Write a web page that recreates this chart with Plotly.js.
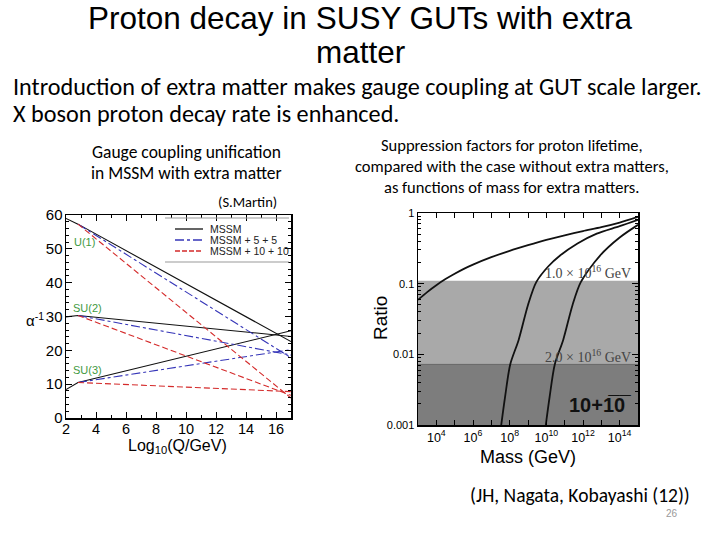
<!DOCTYPE html>
<html><head><meta charset="utf-8">
<script src="https://cdn.plot.ly/plotly-3.0.1.min.js"></script>
<style>html,body{margin:0;padding:0;background:#fff;} #chart{width:720px;height:540px;}</style>
</head><body><div id="chart"></div>
<script>
// ---------- Left chart: inverse gauge couplings vs log10(Q/GeV) ----------
const xMSSM = [2, 2.8, 17];
const mssmU1 = [59, 57.3, 22.6];
const mssmSU2 = [29.9, 30.3, 24.1];
const mssmSU3 = [8.4, 10.5, 25.8];
const xExtra = [2.8, 17];
const five5U1 = [57.3, 17.8];
const five5SU2 = [30.3, 18.6];
const five5SU3 = [10.5, 20.2];
const ten10U1 = [57.3, 5.9];
const ten10SU2 = [30.3, 6.7];
const ten10SU3 = [10.5, 7.8];
const leftXTicks = [2, 4, 6, 8, 10, 12, 14, 16];
const leftYTicks = [0, 10, 20, 30, 40, 50, 60];
const legendNames = ['MSSM', 'MSSM + 5 + 5', 'MSSM + 10 + 10'];
const groupLabels = ['U(1)', 'SU(2)', 'SU(3)'];

// ---------- Right chart: suppression ratio vs mass ----------
const curve1Exp = [3, 3.5, 4, 4.5, 5, 5.5, 6, 7, 8, 9, 10, 11, 12, 13, 14, 15];
const curve1Ratio = [0.059, 0.076, 0.095, 0.116, 0.138, 0.162, 0.186, 0.237, 0.292, 0.351, 0.417, 0.484, 0.556, 0.631, 0.733, 0.881];
const curve2Exp = [7.54, 7.75, 8.03, 8.49, 9.0, 9.45, 10.1, 10.75, 11.7, 12.75, 14, 15];
const curve2Ratio = [0.001, 0.0025, 0.0072, 0.016, 0.05, 0.105, 0.175, 0.25, 0.37, 0.51, 0.65, 0.8];
const curve3Exp = [9.97, 10.18, 10.46, 10.92, 11.43, 11.88, 12.93, 14, 15];
const curve3Ratio = [0.001, 0.0025, 0.0072, 0.016, 0.05, 0.105, 0.25, 0.45, 0.68];
const bandUpper = [0.11, 0.0072];
const bandLower = [0.0072, 0.001];
const massRangeExp = [3, 15];
const rightYTicks = [0.001, 0.01, 0.1, 1];
const rightYTickText = ['0.001', '0.01', '0.1', '1'];
const rightXTickExp = [3, 4, 5, 6, 7, 8, 9, 10, 11, 12, 13, 14, 15];
const rightXLabelled = [4, 6, 8, 10, 12, 14];

const pw = 720, ph = 540;
const px = v => v / pw;
const py = v => 1 - v / ph;
const ARIAL = 'Liberation Sans, Arial, sans-serif';
const CAL = 'Carlito, Lato, sans-serif';
const SERIF = 'Liberation Serif, Times New Roman, serif';

const blk = '#111111', blu = '#3535b8', red = '#d42a2a';
const lineStyles = [
  {color: blk, width: 1.1, dash: 'solid'},
  {color: blu, width: 1.1, dash: 'dashdot'},
  {color: red, width: 1.1, dash: '6px,3px'}
];

const traces = [];
function addLeft(x, y, st) {
  traces.push({x: x, y: y, xaxis: 'x', yaxis: 'y', mode: 'lines', line: st, showlegend: false, hoverinfo: 'skip'});
}
[mssmU1, mssmSU2, mssmSU3].forEach(y => addLeft(xMSSM, y, lineStyles[0]));
[five5U1, five5SU2, five5SU3].forEach(y => addLeft(xExtra, y, lineStyles[1]));
[ten10U1, ten10SU2, ten10SU3].forEach(y => addLeft(xExtra, y, lineStyles[2]));

// bands
const massLo = Math.pow(10, massRangeExp[0]), massHi = Math.pow(10, massRangeExp[1]);
const bandColors = ['#a9a9a9', '#7d7d7d'];
bandUpper.forEach((u, i) => {
  traces.push({x: [massLo, massHi, massHi, massLo, massLo], y: [u, u, bandLower[i], bandLower[i], u],
    xaxis: 'x2', yaxis: 'y2', mode: 'lines', fill: 'toself', fillcolor: bandColors[i],
    line: {width: 0}, showlegend: false, hoverinfo: 'skip'});
});
traces.push({x: [massLo, massHi], y: [bandLower[0], bandLower[0]], xaxis: 'x2', yaxis: 'y2', mode: 'lines',
  line: {color: '#666', width: 1}, showlegend: false, hoverinfo: 'skip'});
[[curve1Exp, curve1Ratio], [curve2Exp, curve2Ratio], [curve3Exp, curve3Ratio]].forEach(c => {
  traces.push({x: c[0].map(e => Math.pow(10, e)), y: c[1], xaxis: 'x2', yaxis: 'y2', mode: 'lines',
    line: {color: '#111', width: 1.8, shape: 'spline', smoothing: 0.8}, showlegend: false, hoverinfo: 'skip'});
});

const ann = [];
function txt(t, x, y, o) {
  ann.push(Object.assign({text: t, x: px(x), y: py(y), xref: 'paper', yref: 'paper', showarrow: false,
    xanchor: 'center', yanchor: 'middle', font: {family: CAL, size: 15, color: '#000'}}, o || {}));
}
txt('Proton decay in SUSY GUTs with extra', 360, 18, {font: {family: ARIAL, size: 31.5, color: '#000'}});
txt('matter', 360, 52, {font: {family: ARIAL, size: 31.5, color: '#000'}});
txt('Introduction of extra matter makes gauge coupling at GUT scale larger.', 11, 87, {xanchor: 'left', font: {family: CAL, size: 24.2, color: '#000'}});
txt('X boson proton decay rate is enhanced.', 11, 113, {xanchor: 'left', font: {family: CAL, size: 24.2, color: '#000'}});
txt('Gauge coupling unification', 186, 152, {font: {family: CAL, size: 17.5, color: '#000'}});
txt('in MSSM with extra matter', 186, 173, {font: {family: CAL, size: 17.5, color: '#000'}});
txt('(S.Martin)', 247, 202, {font: {family: CAL, size: 14.5, color: '#000'}});
txt('Suppression factors for proton lifetime,', 512, 145, {font: {family: CAL, size: 16.5, color: '#000'}});
txt('compared with the case without extra matters,', 512, 166, {font: {family: CAL, size: 16.5, color: '#000'}});
txt('as functions of mass for extra matters.', 512, 187, {font: {family: CAL, size: 16.5, color: '#000'}});
txt('(JH, Nagata, Kobayashi (12))', 580, 495, {font: {family: CAL, size: 19.5, color: '#000'}});
txt('26', 672, 513, {font: {family: ARIAL, size: 10, color: '#999'}});

// axis titles (placed as text)
txt('α<sup>-1</sup>', 35, 319, {font: {family: ARIAL, size: 15, color: '#000'}});
txt('Log<sub>10</sub>(Q/GeV)', 177, 446, {font: {family: ARIAL, size: 16, color: '#000'}});
txt('Ratio', 380, 318, {textangle: -90, font: {family: ARIAL, size: 19, color: '#000'}});
txt('Mass (GeV)', 528, 457, {font: {family: ARIAL, size: 18, color: '#000'}});

// group labels
const glPos = [[72, 242], [71, 308], [71, 370]];
groupLabels.forEach((g, i) => txt(g, glPos[i][0], glPos[i][1], {xanchor: 'left', font: {family: ARIAL, size: 11, color: '#3f9a3f'}}));

// legend (manual)
const shapes = [];
const legY = [229, 240, 251];
legendNames.forEach((n, i) => {
  shapes.push({type: 'line', xref: 'paper', yref: 'paper', x0: px(175), x1: px(203), y0: py(legY[i]), y1: py(legY[i]),
    line: {color: lineStyles[i].color, width: 1.3, dash: i === 0 ? 'solid' : (i === 1 ? 'dashdot' : '5px,2px')}});
  txt(n, 208, legY[i], {xanchor: 'left', font: {family: ARIAL, size: 10.5, color: '#222'}});
});
[218, 262].forEach(yy => shapes.push({type: 'line', xref: 'paper', yref: 'paper', x0: px(165), x1: px(289), y0: py(yy), y1: py(yy), line: {color: '#999', width: 1}}));

// right chart annotations
txt('1.0 × 10<sup>16</sup> GeV', 633, 272, {xanchor: 'right', font: {family: SERIF, size: 14, color: '#444'}});
txt('2.0 × 10<sup>16</sup> GeV', 633, 356, {xanchor: 'right', font: {family: SERIF, size: 14, color: '#444'}});
txt('<b>10+1\u03050\u0305</b>', 600, 405, {font: {family: ARIAL, size: 20, color: '#111'}});

const yMinor = [];
[-3, -2, -1].forEach(d => { for (let k = 2; k <= 9; k++) yMinor.push(k * Math.pow(10, d)); });

const layout = {
  width: 720, height: 540, margin: {l: 0, r: 0, t: 0, b: 0}, paper_bgcolor: '#fff', plot_bgcolor: 'rgba(0,0,0,0)',
  showlegend: false,
  xaxis: {domain: [px(66), px(291)], range: [2, 17], anchor: 'y', tickmode: 'array', tickvals: leftXTicks,
    ticks: 'inside', ticklen: 6, tickcolor: '#000', showline: true, linecolor: '#000', linewidth: 1.5, mirror: 'ticks',
    showgrid: false, zeroline: false, tickfont: {family: ARIAL, size: 14.5, color: '#000'}, ticklabelstandoff: -3,
    minor: {dtick: 1, ticks: 'inside', ticklen: 3, tickcolor: '#000', showgrid: false}},
  yaxis: {domain: [py(418), py(215)], range: [0, 60], anchor: 'x', tickmode: 'array', tickvals: leftYTicks,
    ticks: 'inside', ticklen: 6, tickcolor: '#000', showline: true, linecolor: '#000', linewidth: 1.5, mirror: 'ticks',
    showgrid: false, zeroline: false, tickfont: {family: ARIAL, size: 15, color: '#000'}, ticklabelstandoff: -1,
    minor: {dtick: 2, ticks: 'inside', ticklen: 3, tickcolor: '#000', showgrid: false}},
  xaxis2: {type: 'log', domain: [px(418), px(638)], range: massRangeExp, anchor: 'y2', tickmode: 'array',
    tickvals: rightXTickExp.map(e => Math.pow(10, e)),
    ticktext: rightXTickExp.map(e => rightXLabelled.indexOf(e) >= 0 ? '10<sup>' + e + '</sup>' : ''),
    ticks: 'inside', ticklen: 5, tickcolor: '#000', showline: true, linecolor: '#000', linewidth: 1.5, mirror: 'ticks',
    showgrid: false, zeroline: false, tickfont: {family: ARIAL, size: 12.5, color: '#000'}},
  yaxis2: {type: 'log', domain: [py(425), py(213)], range: [-3, 0], anchor: 'x2', tickmode: 'array',
    tickvals: rightYTicks, ticktext: rightYTickText,
    ticks: 'inside', ticklen: 6, tickcolor: '#000', showline: true, linecolor: '#000', linewidth: 1.5, mirror: 'ticks',
    showgrid: false, zeroline: false, tickfont: {family: ARIAL, size: 11, color: '#000'},
    minor: {tickmode: 'array', tickvals: yMinor, ticks: 'inside', ticklen: 3, tickcolor: '#000', showgrid: false}},
  annotations: ann, shapes: shapes
};
Plotly.newPlot('chart', traces, layout, {staticPlot: true, displayModeBar: false});
</script></body></html>
